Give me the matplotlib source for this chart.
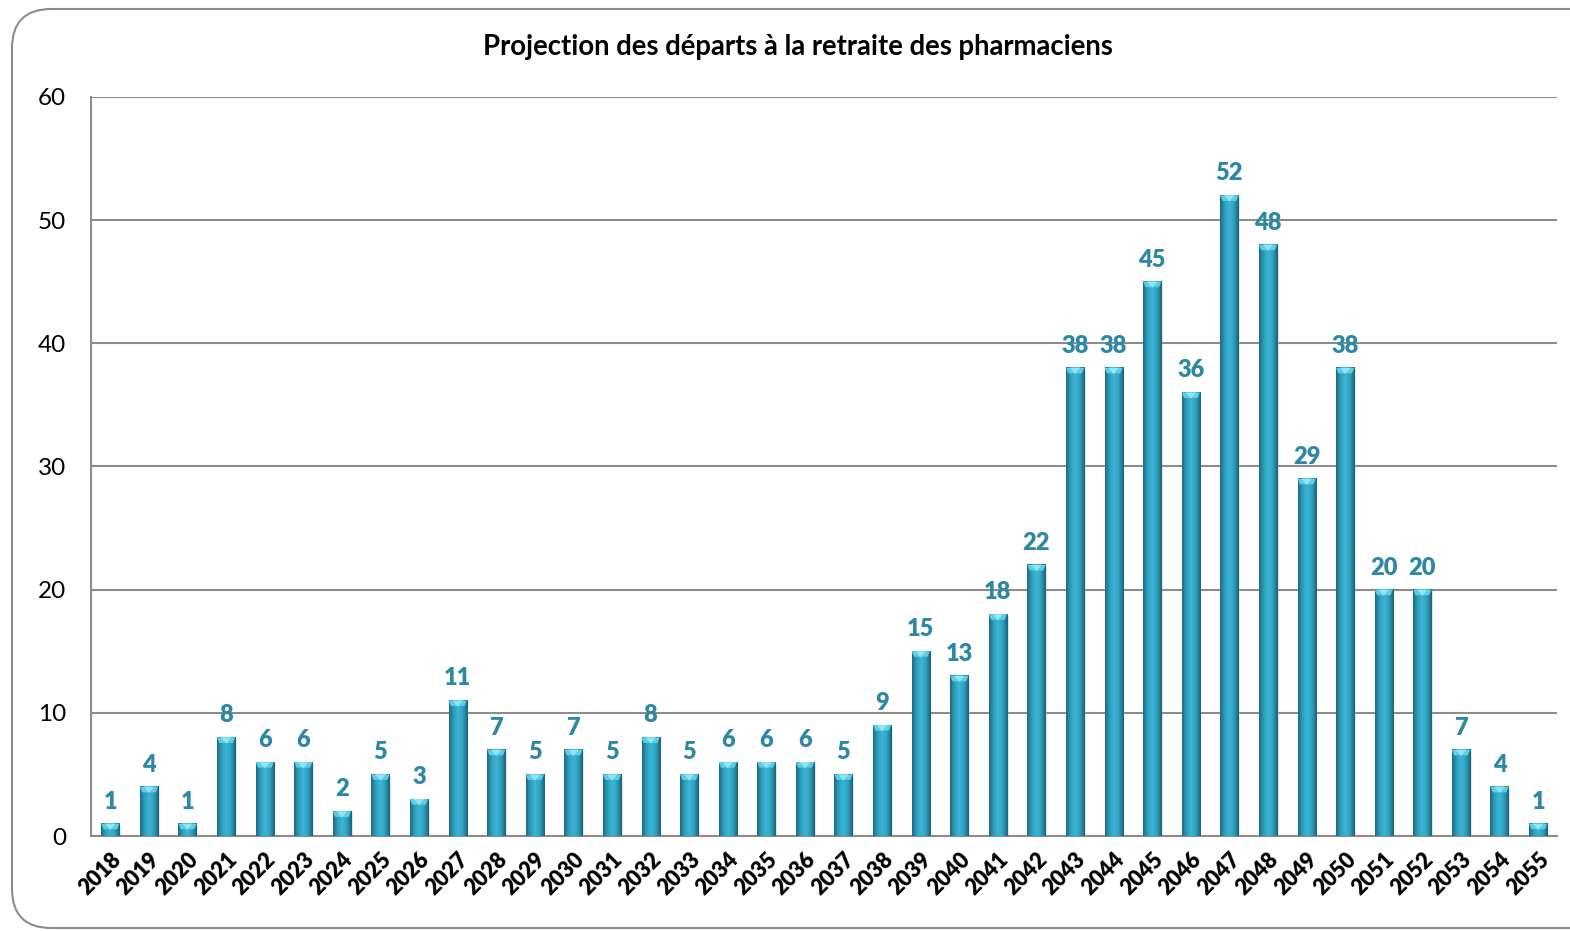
import numpy as np
from matplotlib import pyplot as plt, patches as pth
from matplotlib.colors import LinearSegmentedColormap

years = [str(y) for y in range(2018, 2056)]
departs = [1, 4, 1, 8, 6, 6, 2, 5, 3, 11, 7, 5, 7, 5, 8, 5, 6, 6, 6, 5,
           9, 15, 13, 18, 22, 38, 38, 45, 36, 52, 48, 29, 38, 20, 20, 7, 4, 1]
yticks = [0, 10, 20, 30, 40, 50, 60]
title = "Projection des départs à la retraite des pharmaciens"

plt.rcParams['font.family'] = ['Lato', 'DejaVu Sans']

fig = plt.figure(figsize=(15.7, 9.31), dpi=100)
ax = fig.add_axes([0.058, 0.102, 0.934, 0.794])

# rounded frame around the whole chart (right side runs off the picture)
frame = pth.FancyBboxPatch((12 / 1570, 3 / 931), 1.05, 919 / 931,
                           boxstyle="round,pad=0,rounding_size=0.025",
                           transform=fig.transFigure, fill=False,
                           edgecolor='#8c8c8c', linewidth=1.5,
                           mutation_aspect=1570 / 931, zorder=0)
fig.patches.append(frame)

x = np.arange(len(years))
w = 0.47
cmap = LinearSegmentedColormap.from_list(
    'cyl', ['#1d6b80', '#2f9fbd', '#3cb6d6', '#2f9fbd', '#1a6275'])
grad = np.linspace(0, 1, 64).reshape(1, -1)

for xi, v in zip(x, departs):
    # soft shadow
    ax.add_patch(pth.Rectangle((xi - w / 2 + 0.04, 0), w, v - 0.15,
                               color='#b0b0b0', alpha=0.35, zorder=2,
                               linewidth=0))
    ax.imshow(grad, cmap=cmap, aspect='auto', zorder=3,
              extent=(xi - w / 2, xi + w / 2, 0, v), interpolation='bilinear')
    # lighter top cap
    cap = 0.45
    ax.add_patch(pth.Polygon([(xi - w / 2, v), (xi + w / 2, v),
                              (xi + w / 2 - 0.06, v - cap),
                              (xi - w / 2 + 0.06, v - cap)],
                             closed=True, color='#5fcde6', zorder=4,
                             linewidth=0))
    ax.add_patch(pth.Polygon([(xi - w / 2 + 0.1, v), (xi + w / 2 - 0.1, v),
                              (xi, v - cap * 1.1)],
                             closed=True, color='#8fe6f5', zorder=5,
                             linewidth=0))
    ax.annotate(str(v), (xi, v), xytext=(0, 8), textcoords='offset points',
                ha='center', va='bottom', fontsize=17, fontweight='heavy',
                color='#2e87a3', zorder=6)

ax.set_xlim(-0.5, len(years) - 0.5)
ax.set_ylim(0, 60)
ax.set_yticks(yticks)
ax.set_xticks(x)
ax.set_xticklabels(years, rotation=45, ha='right', rotation_mode='anchor',
                   fontsize=15.5, fontweight='heavy')
ax.tick_params(axis='y', length=0, pad=18, labelsize=17.5)
ax.tick_params(axis='x', length=0, pad=9)
ax.yaxis.grid(True, color='#8c8c8c', linewidth=1.5, zorder=1)
ax.set_axisbelow(True)
for s in ['top', 'right']:
    ax.spines[s].set_visible(False)
for s in ['left', 'bottom']:
    ax.spines[s].set_color('#8c8c8c')
    ax.spines[s].set_linewidth(1.5)

fig.text(0.508, 0.949, title, ha='center', va='center', fontsize=19.8,
         fontweight='bold')

fig.savefig('out.png', dpi=100)
